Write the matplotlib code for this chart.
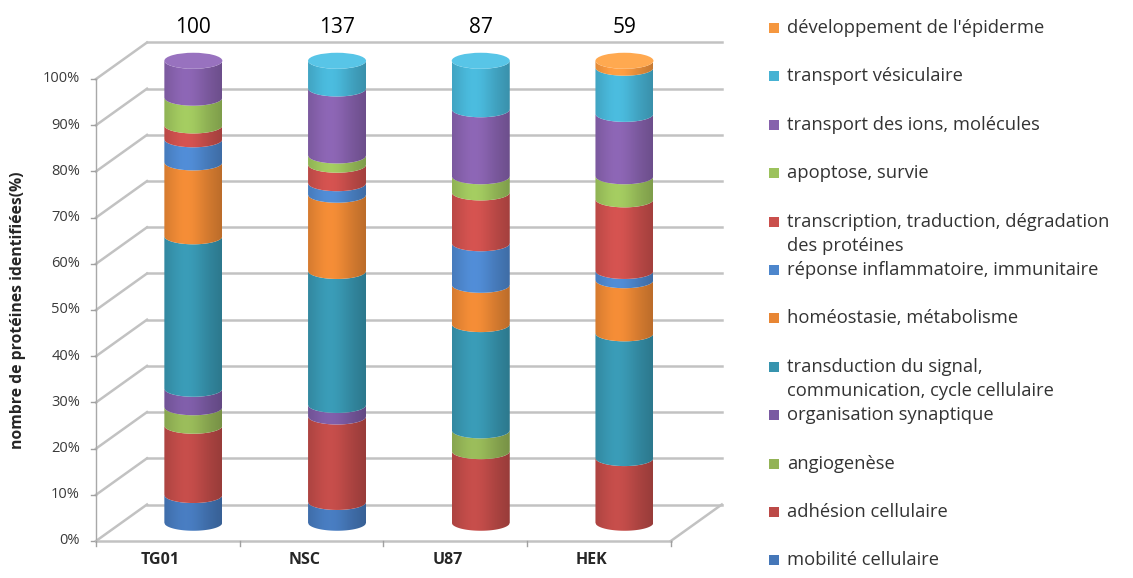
import numpy as np
import matplotlib
matplotlib.use("Agg")
import matplotlib.pyplot as plt
from matplotlib.path import Path
from matplotlib.patches import PathPatch, Ellipse, Rectangle
from matplotlib.colors import to_rgb

# ---------------------------------------------------------------- data
lignees = ["TG01", "NSC", "U87", "HEK"]
totaux = [100, 137, 87, 59]

categories = [
    "mobilité cellulaire",
    "adhésion cellulaire",
    "angiogenèse",
    "organisation synaptique",
    "transduction du signal,\ncommunication, cycle cellulaire",
    "homéostasie, métabolisme",
    "réponse inflammatoire, immunitaire",
    "transcription, traduction, dégradation\ndes protéines",
    "apoptose, survie",
    "transport des ions, molécules",
    "transport vésiculaire",
    "développement de l'épiderme",
]

# share of identified proteins (%) per cell line, same order as lignees
mobilite = [6, 4.5, 0, 0]
adhesion = [15, 18.5, 15.5, 14]
angiogenese = [4, 0, 4.5, 0]
synaptique = [4, 2.5, 0, 0]
transduction = [33, 29, 23, 27]
homeostasie = [16, 16.5, 8.5, 11.5]
inflammation = [5, 2.5, 9, 2]
transcription = [3, 4, 11, 15.5]
apoptose = [6, 2, 3.5, 5]
transport_ions = [8, 14.5, 14.5, 13.5]
vesiculaire = [0, 6, 10.5, 10]
epiderme = [0, 0, 0, 1.5]

series = [mobilite, adhesion, angiogenese, synaptique, transduction, homeostasie,
          inflammation, transcription, apoptose, transport_ions, vesiculaire, epiderme]

couleurs = ["#4577B8", "#BC4A47", "#93B356", "#7A5AA2", "#3794AE", "#E88634",
            "#4D86CC", "#CA4F4C", "#9CC25C", "#8661AC", "#47B2D3", "#F5973F"]

yticks = list(range(0, 101, 10))

# ---------------------------------------------------------------- layout
W, H, DPI = 1133, 578, 100
PX_CAT, PX_PCT = 143.7, 4.62          # pixels per category / per percent
X0_PX, Y0_PX = 96 + 0.5 * PX_CAT, 541  # front plane origin (category 0, 0 %)
DX, DY = 51 / PX_CAT, 36.5 / PX_PCT    # depth of the 3-D box in data units
A, B = 29 / PX_CAT, 8 / PX_PCT         # cylinder ellipse half axes

FONT = ["Open Sans", "DejaVu Sans"]
plt.rcParams["font.family"] = FONT

fig = plt.figure(figsize=(W / DPI, H / DPI), dpi=DPI)
ax = fig.add_axes([0, 0, 1, 1])
ax.set_axis_off()

GRID = "#C2C2C2"
LW = 1.8
TXT = "#333333"

# walls and floor
for p in yticks:
    ax.plot([-0.5 + DX, 3.5 + DX], [p + DY, p + DY], color=GRID, lw=LW, zorder=1)
    ax.plot([-0.5, -0.5 + DX], [p, p + DY], color=GRID, lw=LW, zorder=1)
    ax.plot([-0.5 - 5 / PX_CAT, -0.5], [p, p], color="#A0A0A0", lw=1.0, zorder=1)
    ax.text(-0.5 - 16 / PX_CAT, p, f"{p}%", ha="right", va="center",
            fontsize=10.5, color="#3A3A3A")
ax.plot([-0.5, -0.5], [0, 100], color="#A8A8A8", lw=1.0, zorder=1)
ax.plot([-0.5, 3.5], [0, 0], color=GRID, lw=LW, zorder=1)
ax.plot([3.5, 3.5 + DX], [0, DY], color=GRID, lw=LW, zorder=1)
for k in range(5):
    ax.plot([-0.5 + k, -0.5 + k], [0, -5 / PX_PCT], color="#A0A0A0", lw=1.0, zorder=1)


def profil(n=200):
    u = np.linspace(0, 1, n)
    return 0.86 + 0.20 * np.exp(-((u - 0.38) / 0.35) ** 2) - 0.06 * u ** 6


SHADE = profil()


def segment(xc, y0, y1, color, z):
    t = np.linspace(-1, 1, 80)
    xs = xc + A * t
    arc = -B * np.sqrt(np.clip(1 - t ** 2, 0, 1))
    verts = list(zip(xs, y0 + arc)) + list(zip(xs[::-1], (y1 + arc)[::-1]))
    verts.append(verts[0])
    codes = [Path.MOVETO] + [Path.LINETO] * (len(verts) - 2) + [Path.CLOSEPOLY]
    patch = PathPatch(Path(verts, codes), facecolor="none", edgecolor="none", zorder=z)
    ax.add_patch(patch)
    base = np.array(to_rgb(color))
    img = np.clip(base[None, None, :] * SHADE[None, :, None], 0, 1)
    im = ax.imshow(img, extent=[xc - A, xc + A, y0 - B - 0.1, y1 + 0.1],
                   aspect="auto", interpolation="bilinear", zorder=z)
    im.set_clip_path(patch)


for i, nom in enumerate(lignees):
    xc = i + DX / 2
    base = DY / 2
    cum = 0.0
    top_color = None
    for s, col in zip(series, couleurs):
        v = s[i]
        if v <= 0:
            continue
        segment(xc, base + cum, base + cum + v, col, 3)
        cum += v
        top_color = col
    c = np.array(to_rgb(top_color))
    cap = np.clip(c * 1.02 + 0.06, 0, 1)
    ax.add_patch(Ellipse((xc, base + cum), 2 * A, 2 * B, facecolor=cap,
                         edgecolor="none", zorder=4))
    ax.text(xc, base + cum + 33 / PX_PCT, str(totaux[i]), ha="center", va="center",
            fontsize=15, color="black", zorder=5)
    ax.text(i - 0.05, -19 / PX_PCT, nom, ha="center", va="center",
            fontsize=11.5, fontweight="bold", color="#262626")

ax.text(-0.5 - 78 / PX_CAT, 50, "nombre de protéines identifiées(%)", rotation=90,
        ha="center", va="center", fontsize=11.3, fontweight="bold", color="#262626")

ax.set_xlim(-X0_PX / PX_CAT, (W - X0_PX) / PX_CAT)
ax.set_ylim((Y0_PX - H) / PX_PCT, Y0_PX / PX_PCT)

# legend, top entry = last series
for k in range(len(categories)):
    idx = len(categories) - 1 - k
    y = 28 + 48.4 * k
    fig.add_artist(Rectangle((769 / W, 1 - (y + 5) / H), 10 / W, 10 / H,
                             transform=fig.transFigure, facecolor=couleurs[idx],
                             edgecolor="none"))
    for j, ligne in enumerate(categories[idx].split("\n")):
        fig.text(787 / W, 1 - (y + 24 * j) / H, ligne, ha="left", va="center",
                 fontsize=13.2, color=TXT)

fig.savefig("out.png", dpi=DPI)
